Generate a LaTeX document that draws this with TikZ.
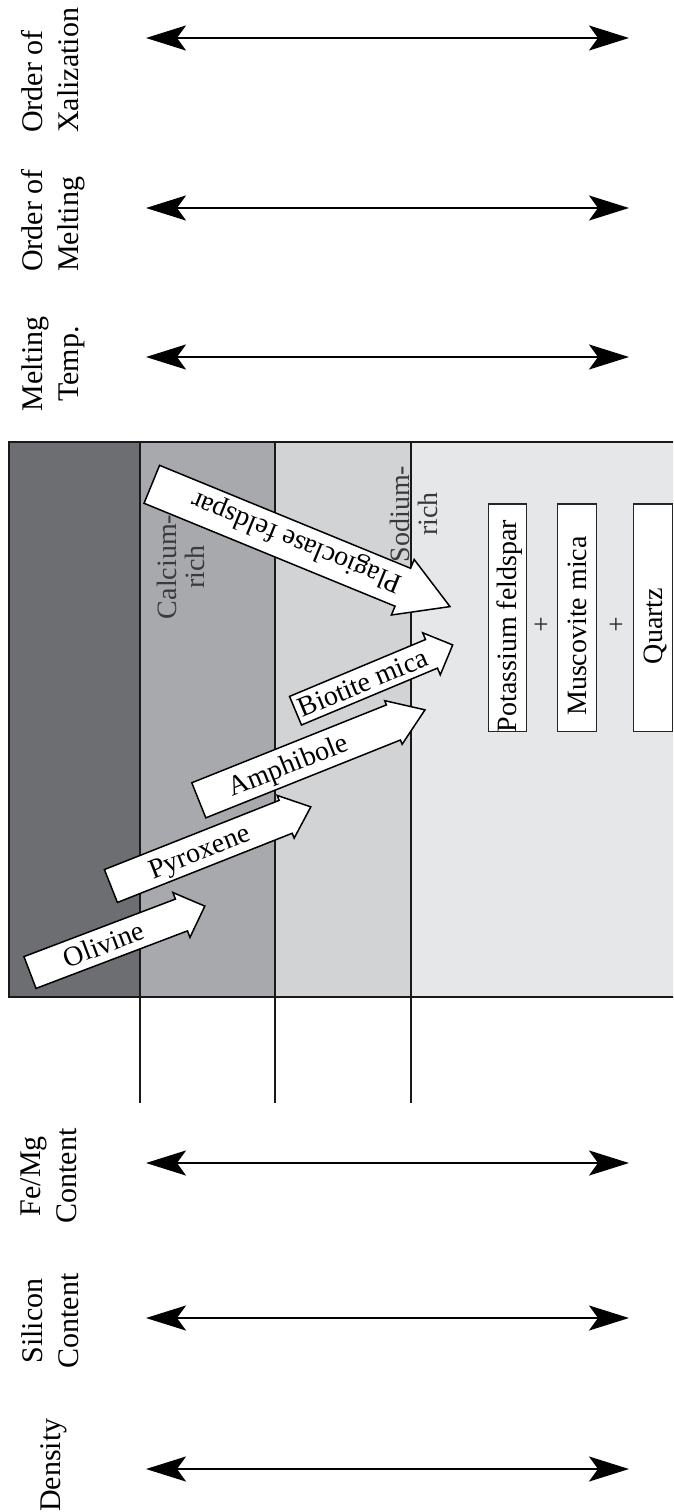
\documentclass[tikz,border=0pt]{standalone}
\usepackage{fontspec}
\setmainfont{Liberation Serif}
\usetikzlibrary{arrows.meta}
\definecolor{colA}{HTML}{6D6E71}
\definecolor{colB}{HTML}{A7A9AC}
\definecolor{colC}{HTML}{D1D3D4}
\definecolor{colD}{HTML}{E6E7E8}
\definecolor{inktext}{HTML}{3A3A3C}
\newcommand{\blockarr}[4]{%
  \draw[blockarrow] (0,#2) -- ({#1-#4},#2) -- ({#1-#4},#3) -- (#1,0) -- ({#1-#4},-#3) -- ({#1-#4},-#2) -- (0,-#2) -- cycle;}
\begin{document}
\begin{tikzpicture}[x=1pt,y=-1pt,
  hdr/.style={rotate=90, inner sep=0pt, font=\fontsize{30}{36}\selectfont},
  dblarrow/.style={line width=2.4pt, {Stealth[length=40pt,width=25pt,inset=9pt]}-{Stealth[length=40pt,width=25pt,inset=9pt]}},
  boxline/.style={line width=2pt, draw=black!90},
  divline/.style={line width=1.8pt, draw=black!90},
  blockarrow/.style={fill=white, draw=black, line width=1.5pt, line join=miter},
  atext/.style={inner sep=0pt, font=\fontsize{28}{28}\selectfont, text height=18.5pt, text depth=0pt},
  zone/.style={inner sep=0pt, font=\fontsize{28}{28}\selectfont, align=center, text=inktext, rotate=90, anchor=north},
  mboxline/.style={draw=black!85, fill=white, line width=1.5pt},
  mtext/.style={inner sep=0pt, font=\fontsize{28}{28}\selectfont, rotate=90, anchor=base},
  plus/.style={inner sep=0pt, font=\fontsize{27}{27}\selectfont, text=black!85}
]
\clip (0,0) rectangle (673,1512);
\fill[white] (0,0) rectangle (673,1512);

% header labels
\node[hdr, align=left, anchor=north west] (lxal) at (21,133) {Order of\\Xalization};
\node[hdr, align=left, anchor=north west] (lmelt) at (21,272) {Order of\\Melting};
\node[hdr, align=center, anchor=north] (ltemp) at (21,364) {Melting\\Temp.};
\node[hdr, align=center, anchor=north] (lfemg) at (21,1176) {Fe/Mg\\Content};
\node[hdr, align=center, anchor=north] (lsil) at (21,1321) {Silicon\\Content};
\node[hdr, anchor=north] (ldens) at (40,1465) {Density};

% double arrows
\foreach \yy/\nn in {38/xal, 208/melt, 357/temp, 1163/femg, 1318/sil, 1469/dens}{
  \coordinate (\nn L) at (146,\yy);
  \coordinate (\nn R) at (629,\yy);
  \draw[dblarrow] (\nn L) -- (\nn R);
}

% zones
\fill[colA] (8.6,442) rectangle (140,997);
\fill[colB] (140,442) rectangle (275,997);
\fill[colC] (275,442) rectangle (411,997);
\fill[colD] (411,442) rectangle (690,997);
\draw[boxline] (690,442) -- (8.6,442) -- (8.6,997) -- (690,997);
\foreach \xx in {140,275,411}{
  \draw[divline] (\xx,442) -- (\xx,1103);
}

\node[zone] (calc) at (157,567) {Calcium-\\rich};
\node[zone] (sod) at (390,514) {Sodium-\\rich};

% mineral boxes
\draw[mboxline] (488.3,504) rectangle (526.7,731.7);
\draw[mboxline] (557.3,504) rectangle (596.7,731.7);
\draw[mboxline] (633.3,504) rectangle (672.7,731.7);
\node[mtext] (kspar) at (516.5,626) {Potassium feldspar};
\node[mtext] (musc) at (586,626) {Muscovite mica};
\node[mtext] (qtz) at (662,626) {Quartz};
\node[plus] (p1) at (541,626) {+};
\node[plus] (p2) at (616,626) {+};

% block arrows
\begin{scope}[shift={(30,972.5)}, rotate=20.8]
  \blockarr{187}{17}{24}{25}
  \node[atext, rotate=20.8] (olivine) at (79,0) {Olivine};
\end{scope}
\begin{scope}[shift={(110.9,886)}, rotate=21.6]
  \blockarr{215}{17.7}{23}{27}
  \node[atext, rotate=21.6] (pyroxene) at (95,0) {Pyroxene};
\end{scope}
\begin{scope}[shift={(198.8,800.3)}, rotate=21.8]
  \blockarr{243.6}{18.9}{23.5}{34}
  \node[atext, rotate=21.8] (amphibole) at (96,0) {Amphibole};
\end{scope}
\begin{scope}[shift={(295.5,710.7)}, rotate=22.7]
  \blockarr{170.4}{15.5}{22.8}{23}
  \node[atext, rotate=22.7] (biotite) at (73,0) {Biotite mica};
\end{scope}
\begin{scope}[shift={(151.8,484.3)}, rotate=-22.3]
  \blockarr{322.3}{20.5}{30}{51}
  \node[atext, rotate=157.7] (plag) at (156,0) {Plagioclase feldspar};
\end{scope}
\end{tikzpicture}
\end{document}
